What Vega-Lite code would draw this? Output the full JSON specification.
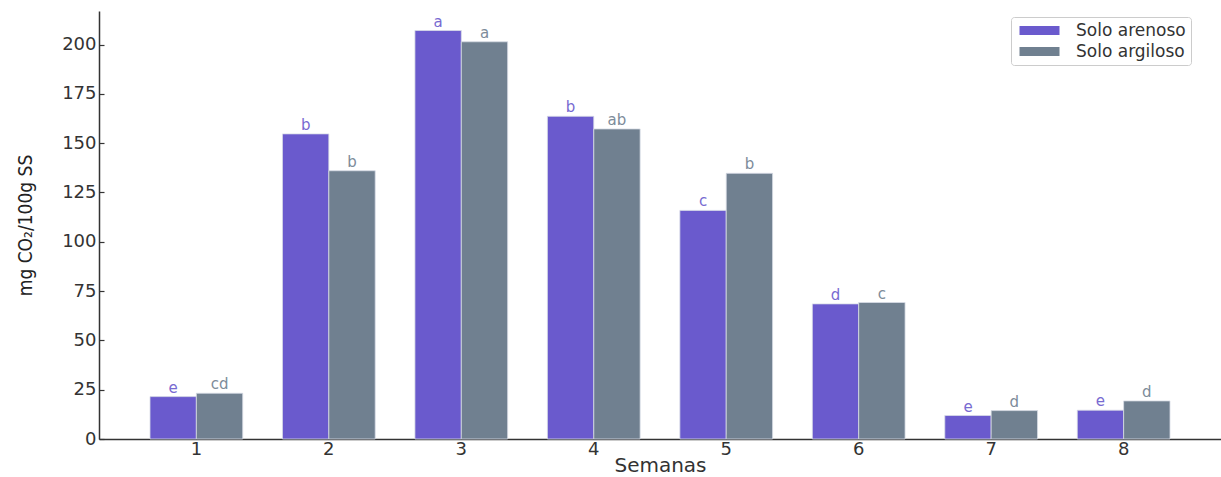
{
  "$schema": "https://vega.github.io/schema/vega-lite/v6.json",
  "width": 1122,
  "height": 428,
  "autosize": {"type": "none"},
  "padding": {"left": 99, "top": 11, "right": 0, "bottom": 38},
  "background": "white",
  "config": {
    "view": {"stroke": null},
    "font": "DejaVu Sans",
    "axis": {"labelFont": "DejaVu Sans", "labelColor": "#333333", "domainColor": "#333333", "tickColor": "#333333", "domainWidth": 1.5, "tickWidth": 1.2, "grid": false}
  },
  "data": {
    "values": [
      {"semana": "1", "solo": "Solo arenoso", "valor": 21.5, "letra": "e"},
      {"semana": "1", "solo": "Solo argiloso", "valor": 23.2, "letra": "cd"},
      {"semana": "2", "solo": "Solo arenoso", "valor": 154.7, "letra": "b"},
      {"semana": "2", "solo": "Solo argiloso", "valor": 136.0, "letra": "b"},
      {"semana": "3", "solo": "Solo arenoso", "valor": 207.1, "letra": "a"},
      {"semana": "3", "solo": "Solo argiloso", "valor": 201.4, "letra": "a"},
      {"semana": "4", "solo": "Solo arenoso", "valor": 163.6, "letra": "b"},
      {"semana": "4", "solo": "Solo argiloso", "valor": 157.2, "letra": "ab"},
      {"semana": "5", "solo": "Solo arenoso", "valor": 115.9, "letra": "c"},
      {"semana": "5", "solo": "Solo argiloso", "valor": 134.7, "letra": "b"},
      {"semana": "6", "solo": "Solo arenoso", "valor": 68.5, "letra": "d"},
      {"semana": "6", "solo": "Solo argiloso", "valor": 69.2, "letra": "c"},
      {"semana": "7", "solo": "Solo arenoso", "valor": 11.9, "letra": "e"},
      {"semana": "7", "solo": "Solo argiloso", "valor": 14.4, "letra": "d"},
      {"semana": "8", "solo": "Solo arenoso", "valor": 14.6, "letra": "e"},
      {"semana": "8", "solo": "Solo argiloso", "valor": 19.3, "letra": "d"}
    ]
  },
  "encoding": {
    "x": {
      "field": "semana",
      "type": "ordinal",
      "sort": ["1", "2", "3", "4", "5", "6", "7", "8"],
      "scale": {"paddingInner": 0.3, "paddingOuter": 0.385},
      "axis": {
        "title": "Semanas",
        "labelAngle": 0,
        "labelFontSize": 18,
        "tickSize": -5,
        "labelPadding": 6,
        "titleFont": "DejaVu Sans",
        "titleFontSize": 20,
        "titleFontWeight": "normal",
        "titleColor": "#333333",
        "titleY": 32,
        "titleBaseline": "alphabetic"
      }
    },
    "xOffset": {
      "field": "solo",
      "sort": ["Solo arenoso", "Solo argiloso"],
      "scale": {"paddingInner": 0, "paddingOuter": 0}
    },
    "y": {
      "field": "valor",
      "type": "quantitative",
      "scale": {"domain": [0, 217], "nice": false},
      "axis": {
        "title": "mg CO₂/100g SS",
        "values": [0, 25, 50, 75, 100, 125, 150, 175, 200],
        "labelFontSize": 18,
        "tickSize": -5,
        "labelPadding": 8,
        "titleFont": "DejaVu Sans Condensed, Roboto, sans-serif",
        "titleFontSize": 19,
        "titleFontWeight": "normal",
        "titleColor": "#222222",
        "titleX": -74,
        "titleY": 214,
        "titleAlign": "center",
        "titleBaseline": "middle"
      }
    },
    "color": {
      "field": "solo",
      "type": "nominal",
      "sort": ["Solo arenoso", "Solo argiloso"],
      "scale": {"domain": ["Solo arenoso", "Solo argiloso"], "range": ["#6A5ACD", "#708090"]}
    }
  },
  "layer": [
    {
      "mark": {"type": "bar", "stroke": "#d8dce6", "strokeWidth": 0.8},
      "encoding": {
        "color": {
          "field": "solo",
          "type": "nominal",
          "sort": ["Solo arenoso", "Solo argiloso"],
          "scale": {"domain": ["Solo arenoso", "Solo argiloso"], "range": ["#6A5ACD", "#708090"]},
          "legend": {
            "title": null,
            "orient": "none",
            "legendX": 912,
            "legendY": 6,
            "padding": 5,
            "strokeColor": "#cccccc",
            "fillColor": "white",
            "cornerRadius": 3,
            "labelFont": "DejaVu Sans",
            "labelFontSize": 17,
            "labelColor": "#333333",
            "symbolType": "M-0.625,-0.5625H4.375V0.5625H-0.625Z",
            "symbolSize": 256,
            "symbolStrokeWidth": 0,
            "symbolOpacity": 1,
            "labelOffset": 43,
            "rowPadding": 3
          }
        }
      }
    },
    {
      "mark": {"type": "text", "baseline": "alphabetic", "dy": -4, "fontSize": 15, "opacity": 0.9},
      "encoding": {
        "text": {"field": "letra"},
        "color": {
          "field": "solo",
          "type": "nominal",
          "sort": ["Solo arenoso", "Solo argiloso"],
          "scale": {"domain": ["Solo arenoso", "Solo argiloso"], "range": ["#6A5ACD", "#708090"]},
          "legend": null
        }
      }
    }
  ]
}
